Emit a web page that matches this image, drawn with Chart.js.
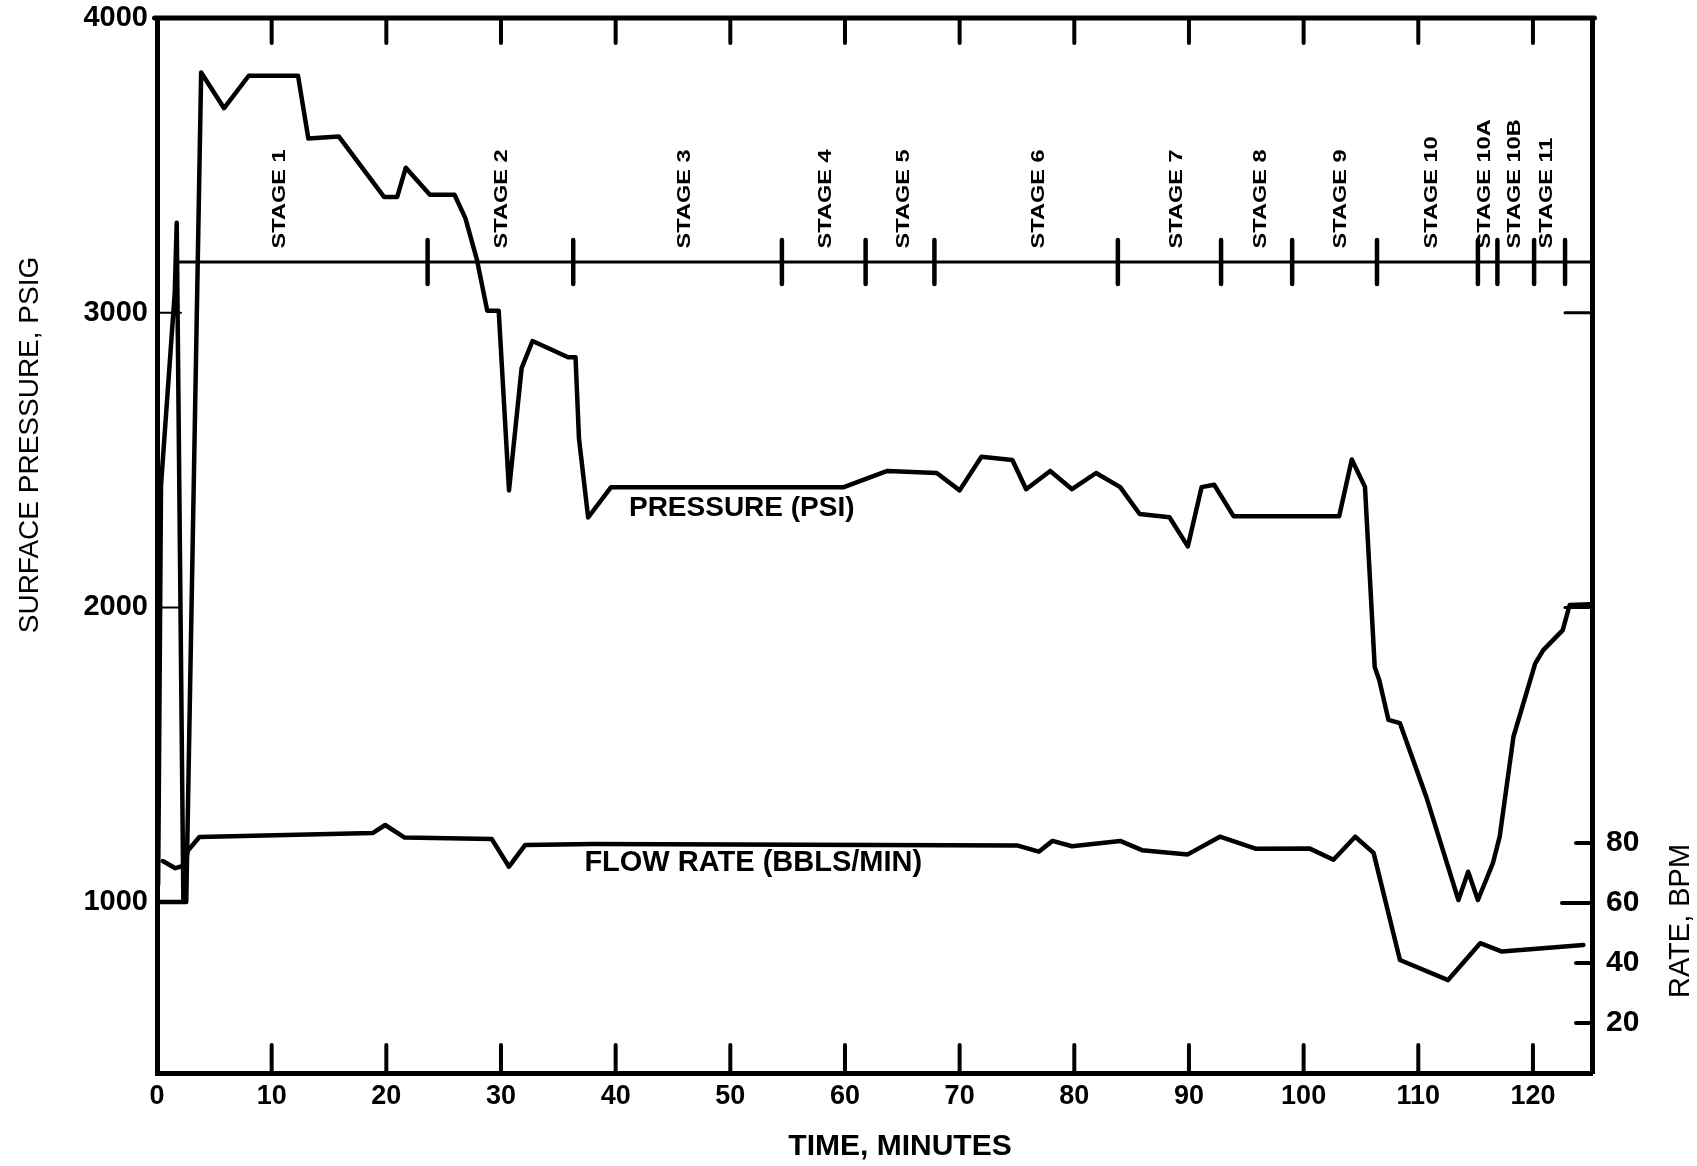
<!DOCTYPE html>
<html>
<head>
<meta charset="utf-8">
<script src="https://cdn.jsdelivr.net/npm/chart.js@4.4.0/dist/chart.umd.min.js"></script>
<style>
  html, body { margin: 0; padding: 0; background: #ffffff; }
  #wrap { width: 1697px; height: 1166px; position: relative; }
  canvas { display: block; }
</style>
</head>
<body>
<div id="wrap"><canvas id="c" width="1697" height="1166"></canvas></div>
<script>
// ---------------- DATA ----------------
// Surface pressure (psig) vs time (minutes); null marks a pen lift
const pressureTime = [0.1, 0.35, 1.55, 1.72, 2.3, 2.3,
  0, 2.55, 3.85, 5.85, 8.0, 12.3, 13.2, 15.85, 19.8, 20.95, 21.7, 23.8, 25.95, 26.9, 27.9, 28.8, 29.8,
  30.7, 31.8, 32.75, 35.85, 36.5, 36.8, 37.6, 39.6, 59.9, 63.7, 68.0, 70.0, 71.9, 74.6, 75.8, 77.9,
  79.8, 81.9, 84.0, 85.7, 88.3, 89.9, 91.1, 92.2, 93.9, 103.1, 104.2, 105.35, 106.2, 106.6, 107.4,
  108.4, 110.7, 113.5, 114.35, 115.2, 116.5, 117.1, 118.3, 120.2, 120.9, 122.6, 123.2, 125.0];
const pressurePsi = [1060, 2414, 3070, 3305, 1000, null,
  1000, 1000, 3815, 3694, 3804, 3804, 3591, 3598, 3393, 3393, 3492, 3400, 3400, 3320, 3180, 3007, 3007,
  2397, 2812, 2904, 2849, 2849, 2574, 2305, 2408, 2408, 2463, 2456, 2397, 2511, 2500, 2401, 2463,
  2401, 2456, 2408, 2317, 2306, 2207, 2408, 2416, 2309, 2309, 2502, 2409, 1798, 1753, 1618,
  1607, 1357, 1007, 1103, 1007, 1131, 1222, 1561, 1810, 1855, 1923, 2008, 2011];

// Flow rate (BPM) vs time (minutes)
const rateTime = [0.5, 1.6, 2.4, 2.7, 3.7, 18.8, 19.9, 21.6, 29.2, 30.7, 32.1, 38.0, 75.0, 76.9, 78.1,
  79.8, 84.0, 85.9, 89.9, 92.7, 95.8, 100.5, 102.6, 104.5, 106.1, 108.4, 112.6, 115.4, 117.3, 124.4];
const rateBpm = [74, 71.6, 72.5, 77.5, 82, 83.3, 86, 81.8, 81.3, 72.1, 79.3, 79.7, 79.2, 77.1, 80.7,
  78.9, 80.7, 77.6, 76.2, 82.1, 78.1, 78.2, 74.4, 82.1, 76.7, 41, 34.3, 46.6, 43.8, 46];

// Ticks
const timeTicks = [0, 10, 20, 30, 40, 50, 60, 70, 80, 90, 100, 110, 120];
const pressureTicks = [1000, 2000, 3000, 4000];
const rateTicks = [20, 40, 60, 80];

// Stage annotations
const stageNames = ['STAGE 1', 'STAGE 2', 'STAGE 3', 'STAGE 4', 'STAGE 5', 'STAGE 6', 'STAGE 7',
  'STAGE 8', 'STAGE 9', 'STAGE 10', 'STAGE 10A', 'STAGE 10B', 'STAGE 11'];
const stageLabelTime = [10.7, 30.1, 46.0, 58.3, 65.1, 76.9, 88.9, 96.3, 103.2, 111.2, 115.8, 118.4, 121.2];
const stageBoundaryTime = [23.6, 36.3, 54.5, 61.8, 67.8, 83.8, 92.8, 99.0, 106.4, 115.2, 116.9, 120.1, 122.8];

// ---------------- STYLE / LAYOUT ----------------
const FONT = "'Liberation Sans', Arial, Helvetica, sans-serif";
const X_MIN = 0, X_MAX = 125.15;
const P_MIN = 420, P_MAX = 4000;
const R_MIN = 3.33, R_MAX = 355;
const STAGE_LINE_PSI = 3172, STAGE_LINE_START = 1.7, STAGE_LABEL_PSI = 3218;

const pressureData = pressureTime.map((t, i) => ({ x: t, y: pressurePsi[i] }));
const rateData = rateTime.map((t, i) => ({ x: t, y: rateBpm[i] }));

const overlay = {
  id: 'overlay',
  afterDatasetsDraw(chart) {
    const { ctx, chartArea: a, scales } = chart;
    const xs = scales.x, yP = scales.y, yR = scales.y2;
    ctx.save();
    ctx.strokeStyle = '#000';
    ctx.fillStyle = '#000';

    // stage base line
    const ly = yP.getPixelForValue(STAGE_LINE_PSI);
    ctx.lineWidth = 3;
    ctx.beginPath();
    ctx.moveTo(xs.getPixelForValue(STAGE_LINE_START), ly);
    ctx.lineTo(a.right, ly);
    ctx.stroke();

    // stage boundary marks
    ctx.lineWidth = 4.5;
    ctx.lineCap = 'round';
    stageBoundaryTime.forEach(t => {
      const px = xs.getPixelForValue(t);
      ctx.beginPath();
      ctx.moveTo(px, ly - 22);
      ctx.lineTo(px, ly + 22);
      ctx.stroke();
    });

    // stage labels (rotated, reading upward)
    const lb = yP.getPixelForValue(STAGE_LABEL_PSI);
    ctx.font = 'bold 19px ' + FONT;
    ctx.textAlign = 'left';
    ctx.textBaseline = 'middle';
    stageNames.forEach((n, i) => {
      ctx.save();
      ctx.translate(xs.getPixelForValue(stageLabelTime[i]), lb);
      ctx.rotate(-Math.PI / 2);
      ctx.scale(1.24, 1);
      ctx.fillText(n, 0, 0);
      ctx.restore();
    });

    // series labels
    ctx.textAlign = 'center';
    ctx.font = 'bold 28px ' + FONT;
    ctx.fillText('PRESSURE (PSI)', xs.getPixelForValue(51.0), yP.getPixelForValue(2337));
    ctx.font = 'bold 29px ' + FONT;
    ctx.fillText('FLOW RATE (BBLS/MIN)', xs.getPixelForValue(52.0), yR.getPixelForValue(73.3));
    ctx.restore();
  },
  afterDraw(chart) {
    const { ctx, chartArea: a, scales } = chart;
    const xs = scales.x, yP = scales.y, yR = scales.y2;
    ctx.save();
    ctx.strokeStyle = '#000';
    ctx.fillStyle = '#000';
    ctx.lineCap = 'round';

    // top border
    ctx.lineWidth = 5;
    ctx.beginPath(); ctx.moveTo(a.left - 2.5, a.top); ctx.lineTo(a.right + 2.5, a.top); ctx.stroke();

    // inward time ticks on bottom and top
    ctx.lineWidth = 4;
    timeTicks.forEach(v => {
      if (v === 0) return;
      const px = xs.getPixelForValue(v);
      ctx.beginPath(); ctx.moveTo(px, a.bottom); ctx.lineTo(px, a.bottom - 28); ctx.stroke();
      ctx.beginPath(); ctx.moveTo(px, a.top); ctx.lineTo(px, a.top + 25); ctx.stroke();
    });

    // inward pressure ticks (left thin, right)
    [2000, 3000].forEach(v => {
      const py = yP.getPixelForValue(v);
      ctx.lineWidth = 2;
      ctx.beginPath(); ctx.moveTo(a.left, py); ctx.lineTo(a.left + 24, py); ctx.stroke();
      ctx.lineWidth = 3;
      ctx.beginPath(); ctx.moveTo(a.right, py); ctx.lineTo(a.right - 27, py); ctx.stroke();
    });

    // inward rate ticks on right
    ctx.lineWidth = 4;
    rateTicks.forEach(v => {
      const py = yR.getPixelForValue(v);
      const len = v === 60 ? 30 : 16;
      ctx.beginPath(); ctx.moveTo(a.right, py); ctx.lineTo(a.right - len, py); ctx.stroke();
    });

    // axis titles
    ctx.textBaseline = 'middle';
    ctx.textAlign = 'center';
    ctx.font = 'bold 30px ' + FONT;
    ctx.fillText('TIME, MINUTES', a.left + 743, a.bottom + 74);

    ctx.font = '28px ' + FONT;
    ctx.save();
    ctx.translate(30, a.top + 427);
    ctx.rotate(-Math.PI / 2);
    ctx.fillText('SURFACE PRESSURE, PSIG', 0, 0);
    ctx.restore();

    ctx.font = '29px ' + FONT;
    ctx.save();
    ctx.translate(a.right + 89, yR.getPixelForValue(54));
    ctx.rotate(-Math.PI / 2);
    ctx.fillText('RATE, BPM', 0, 0);
    ctx.restore();

    ctx.restore();
  }
};

const plainLabel = v => String(v);

new Chart(document.getElementById('c'), {
  type: 'line',
  data: {
    datasets: [
      {
        label: 'Pressure (PSI)',
        data: pressureData,
        yAxisID: 'y',
        borderColor: '#000',
        borderWidth: 4.5,
        pointRadius: 0,
        tension: 0,
        spanGaps: false,
        borderJoinStyle: 'round',
        borderCapStyle: 'round',
        fill: false
      },
      {
        label: 'Flow rate (BBLS/MIN)',
        data: rateData,
        yAxisID: 'y2',
        borderColor: '#000',
        borderWidth: 4.5,
        pointRadius: 0,
        tension: 0,
        borderJoinStyle: 'round',
        borderCapStyle: 'round',
        fill: false
      }
    ]
  },
  options: {
    responsive: false,
    animation: false,
    devicePixelRatio: 1,
    layout: { padding: { top: 18, left: 0, right: 0, bottom: 0 }, autoPadding: false },
    plugins: { legend: { display: false }, tooltip: { enabled: false } },
    scales: {
      x: {
        type: 'linear',
        position: 'bottom',
        min: X_MIN,
        max: X_MAX,
        afterBuildTicks: s => { s.ticks = timeTicks.map(v => ({ value: v })); },
        ticks: { font: { family: FONT, size: 27, weight: 'bold' }, color: '#000', padding: 7,
                 maxRotation: 0, autoSkip: false, callback: plainLabel },
        grid: { display: false, drawTicks: false },
        border: { display: true, color: '#000', width: 5 },
        afterFit: s => { s.height = 93; }
      },
      y: {
        type: 'linear',
        position: 'left',
        min: P_MIN,
        max: P_MAX,
        afterBuildTicks: s => { s.ticks = pressureTicks.map(v => ({ value: v })); },
        ticks: { font: { family: FONT, size: 29, weight: 'bold' }, color: '#000', padding: 0,
                 callback: plainLabel },
        grid: { display: false, drawTicks: true, tickLength: 9 },
        border: { display: true, color: '#000', width: 5 },
        afterFit: s => { s.width = 157; }
      },
      y2: {
        type: 'linear',
        position: 'right',
        min: R_MIN,
        max: R_MAX,
        afterBuildTicks: s => { s.ticks = rateTicks.map(v => ({ value: v })); },
        ticks: { font: { family: FONT, size: 30, weight: 'bold' }, color: '#000', padding: 0,
                 callback: plainLabel },
        grid: { display: false, drawTicks: true, tickLength: 14 },
        border: { display: true, color: '#000', width: 5 },
        afterFit: s => { s.width = 105; }
      }
    }
  },
  plugins: [overlay]
});
</script>
</body>
</html>
